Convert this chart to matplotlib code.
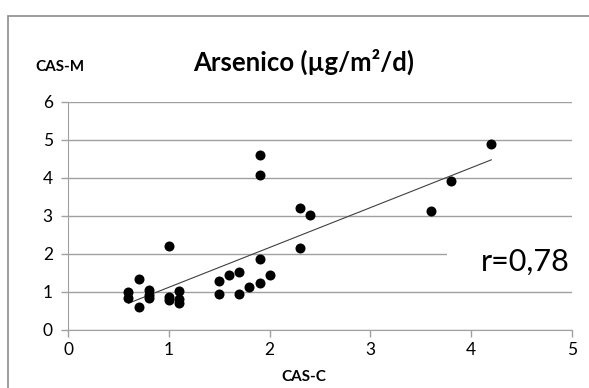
import numpy as np
import matplotlib.pyplot as plt
from matplotlib.patches import Rectangle

# CAS-C vs CAS-M deposition values
cas_c = [0.6, 0.6, 0.7, 0.7, 0.8, 0.8, 0.8, 1.0, 1.0, 1.0, 1.1, 1.1, 1.1,
         1.5, 1.5, 1.6, 1.7, 1.7, 1.8, 1.9, 1.9, 1.9, 1.9, 2.0,
         2.3, 2.3, 2.4, 3.6, 3.8, 4.2]
cas_m = [1.0, 0.85, 1.35, 0.6, 1.05, 0.92, 0.85, 2.22, 0.88, 0.78, 1.03, 0.82, 0.7,
         1.3, 0.95, 1.45, 1.53, 0.95, 1.12, 4.61, 4.07, 1.86, 1.25, 1.45,
         3.2, 2.17, 3.02, 3.13, 3.93, 4.89]
r_label = "r=0,78"

plt.rcParams['font.family'] = ['Lato', 'DejaVu Sans']

fig = plt.figure(figsize=(5.89, 3.88), dpi=100)
ax = fig.add_axes([68 / 589, 1 - 330 / 388, 504 / 589, 228 / 388])

# outer chart border
fig.patches.append(Rectangle((8 / 589, -0.1), 1.2, 1 - 16 / 388 + 0.1,
                             transform=fig.transFigure, fill=False,
                             edgecolor='#8c8c8c', linewidth=1.2))

ax.scatter(cas_c, cas_m, s=52, color='black', zorder=3, linewidths=0)

# linear trendline over the data range
slope, intercept = np.polyfit(cas_c, cas_m, 1)
xs = np.array([min(cas_c), max(cas_c)])
ax.plot(xs, slope * xs + intercept, color='#404040', linewidth=0.8, zorder=2)

ax.set_xlim(0, 5)
ax.set_ylim(0, 6)
ax.set_xticks(range(0, 6))
ax.set_yticks(range(0, 7))
ax.yaxis.grid(True, color='#a0a0a0', linewidth=1)
ax.set_axisbelow(True)
for side in ['top', 'right']:
    ax.spines[side].set_visible(False)
for side in ['left', 'bottom']:
    ax.spines[side].set_color('#a0a0a0')
ax.tick_params(axis='both', colors='#a0a0a0', labelcolor='black',
               labelsize=12.5, length=5, width=1)
ax.tick_params(axis='y', pad=6)

# white label box for the correlation coefficient
ax.add_patch(Rectangle((447 / 589, 1 - 286 / 388), 140 / 589, 48 / 388,
                       transform=fig.transFigure, facecolor='white',
                       edgecolor='none', zorder=2.5, clip_on=False))
fig.text(525 / 589, 1 - 262 / 388, r_label, fontsize=22,
         ha='center', va='center', zorder=4)

fig.text(304 / 589, 1 - 62 / 388, "Arsenico (µg/m²/d)", fontsize=18.5,
         fontweight='bold', ha='center', va='center')
fig.text(35 / 589, 1 - 67 / 388, "CAS-M", fontsize=11,
         fontweight='bold', ha='left', va='center')
fig.text(304 / 589, 1 - 377 / 388, "CAS-C", fontsize=11,
         fontweight='bold', ha='center', va='center')

fig.savefig('out.png', dpi=100)
